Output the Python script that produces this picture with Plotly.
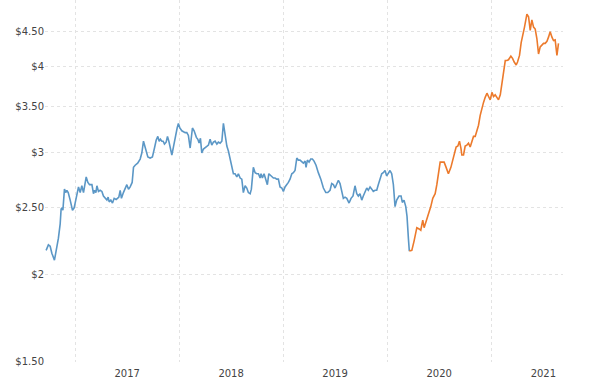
import plotly.graph_objects as go
import pandas as pd
import math

# Decimal-year positions and prices ($/lb)
blue_years = [2016.721, 2016.743, 2016.760, 2016.776, 2016.801, 2016.824, 2016.839, 2016.856, 2016.865, 2016.875,
              2016.882, 2016.897, 2016.911, 2016.920, 2016.933, 2016.952, 2016.974, 2016.990, 2017.010, 2017.022,
              2017.032, 2017.048, 2017.064, 2017.080, 2017.089, 2017.106, 2017.122, 2017.138, 2017.161, 2017.176,
              2017.186, 2017.199, 2017.209, 2017.224, 2017.240, 2017.257, 2017.272, 2017.288, 2017.305, 2017.317,
              2017.327, 2017.343, 2017.359, 2017.375, 2017.394, 2017.407, 2017.420, 2017.433, 2017.445, 2017.464,
              2017.481, 2017.497, 2017.513, 2017.529, 2017.548, 2017.561, 2017.577, 2017.601, 2017.625, 2017.641,
              2017.657, 2017.673, 2017.699, 2017.721, 2017.743, 2017.763, 2017.779, 2017.795, 2017.808, 2017.820,
              2017.834, 2017.846, 2017.859, 2017.875, 2017.888, 2017.901, 2017.916, 2017.930, 2017.945, 2017.968,
              2017.981, 2017.993, 2018.007, 2018.026, 2018.041, 2018.058, 2018.074, 2018.089, 2018.106, 2018.115,
              2018.128, 2018.144, 2018.157, 2018.166, 2018.180, 2018.192, 2018.205, 2018.218, 2018.234, 2018.257,
              2018.282, 2018.298, 2018.314, 2018.330, 2018.346, 2018.363, 2018.378, 2018.394, 2018.411, 2018.426,
              2018.442, 2018.459, 2018.474, 2018.490, 2018.507, 2018.522, 2018.538, 2018.555, 2018.570, 2018.587,
              2018.603, 2018.618, 2018.635, 2018.651, 2018.666, 2018.683, 2018.695, 2018.714, 2018.731, 2018.747,
              2018.763, 2018.779, 2018.788, 2018.801, 2018.817, 2018.834, 2018.849, 2018.863, 2018.875, 2018.891,
              2018.907, 2018.923, 2018.939, 2018.955, 2018.971, 2018.988, 2019.003, 2019.019, 2019.036, 2019.051,
              2019.067, 2019.084, 2019.099, 2019.115, 2019.132, 2019.147, 2019.163, 2019.180, 2019.195, 2019.212,
              2019.221, 2019.234, 2019.250, 2019.266, 2019.282, 2019.298, 2019.317, 2019.339, 2019.363, 2019.388,
              2019.411, 2019.430, 2019.452, 2019.468, 2019.484, 2019.500, 2019.516, 2019.532, 2019.548, 2019.564,
              2019.580, 2019.596, 2019.613, 2019.635, 2019.654, 2019.673, 2019.692, 2019.709, 2019.724, 2019.740,
              2019.757, 2019.772, 2019.788, 2019.805, 2019.820, 2019.837, 2019.853, 2019.868, 2019.885, 2019.901,
              2019.916, 2019.933, 2019.949, 2019.964, 2019.981, 2019.997, 2020.013, 2020.029, 2020.045, 2020.061,
              2020.077, 2020.093, 2020.115, 2020.135, 2020.147, 2020.163, 2020.180, 2020.192, 2020.205, 2020.214]
blue_prices = [2.17, 2.21, 2.20, 2.15, 2.10, 2.18, 2.26, 2.37, 2.49, 2.50,
               2.48, 2.66, 2.63, 2.65, 2.63, 2.565, 2.48, 2.50, 2.59, 2.62,
               2.68, 2.63, 2.69, 2.63, 2.67, 2.77, 2.72, 2.70, 2.70, 2.62,
               2.65, 2.63, 2.69, 2.64, 2.65, 2.64, 2.60, 2.58, 2.565, 2.59,
               2.55, 2.565, 2.54, 2.58, 2.57, 2.58, 2.59, 2.65, 2.58, 2.63,
               2.66, 2.70, 2.66, 2.68, 2.72, 2.86, 2.88, 2.90, 2.94, 3.00,
               3.12, 3.05, 2.96, 2.95, 2.96, 3.05, 3.13, 3.17, 3.12, 3.14,
               3.12, 3.12, 3.09, 3.11, 3.17, 3.12, 3.04, 2.98, 3.06, 3.20,
               3.26, 3.31, 3.26, 3.23, 3.22, 3.21, 3.21, 3.18, 3.05, 3.15,
               3.26, 3.23, 3.18, 3.16, 3.14, 3.10, 3.15, 3.00, 3.04, 3.06,
               3.08, 3.14, 3.08, 3.11, 3.12, 3.09, 3.11, 3.10, 3.12, 3.31,
               3.18, 3.07, 3.02, 2.95, 2.86, 2.80, 2.80, 2.77, 2.80, 2.76,
               2.75, 2.63, 2.69, 2.67, 2.63, 2.62, 2.66, 2.86, 2.81, 2.80,
               2.80, 2.76, 2.80, 2.76, 2.80, 2.75, 2.70, 2.80, 2.79, 2.78,
               2.76, 2.76, 2.75, 2.75, 2.68, 2.67, 2.64, 2.68, 2.70, 2.72,
               2.75, 2.80, 2.81, 2.83, 2.95, 2.93, 2.93, 2.91, 2.90, 2.92,
               2.86, 2.93, 2.91, 2.94, 2.94, 2.92, 2.88, 2.81, 2.75, 2.67,
               2.63, 2.63, 2.65, 2.71, 2.70, 2.67, 2.70, 2.74, 2.71, 2.65,
               2.58, 2.59, 2.58, 2.54, 2.58, 2.60, 2.69, 2.62, 2.60, 2.62,
               2.565, 2.60, 2.63, 2.67, 2.65, 2.68, 2.66, 2.64, 2.65, 2.65,
               2.70, 2.76, 2.80, 2.81, 2.83, 2.78, 2.81, 2.83, 2.80, 2.70,
               2.51, 2.565, 2.60, 2.60, 2.545, 2.565, 2.51, 2.43, 2.26, 2.165]

orange_years = [2020.214, 2020.238, 2020.260, 2020.286, 2020.308, 2020.324, 2020.343, 2020.356, 2020.372, 2020.388,
                2020.404, 2020.420, 2020.439, 2020.462, 2020.478, 2020.493, 2020.510, 2020.526, 2020.548, 2020.567,
                2020.589, 2020.613, 2020.632, 2020.647, 2020.663, 2020.680, 2020.695, 2020.709, 2020.718, 2020.734,
                2020.750, 2020.766, 2020.782, 2020.798, 2020.814, 2020.830, 2020.846, 2020.863, 2020.878, 2020.894,
                2020.911, 2020.926, 2020.942, 2020.959, 2020.974, 2020.990, 2021.007, 2021.022, 2021.038, 2021.055,
                2021.070, 2021.087, 2021.103, 2021.118, 2021.135, 2021.151, 2021.166, 2021.189, 2021.205, 2021.221,
                2021.240, 2021.253, 2021.272, 2021.288, 2021.305, 2021.320, 2021.343, 2021.359, 2021.375, 2021.391,
                2021.407, 2021.423, 2021.439, 2021.455, 2021.471, 2021.488, 2021.503, 2021.519, 2021.536, 2021.551,
                2021.567, 2021.584, 2021.599, 2021.615, 2021.632, 2021.647]
orange_prices = [2.165, 2.17, 2.24, 2.34, 2.33, 2.32, 2.40, 2.34, 2.38, 2.42,
                 2.47, 2.51, 2.58, 2.62, 2.70, 2.80, 2.91, 2.91, 2.91, 2.86,
                 2.80, 2.86, 2.93, 2.99, 3.06, 3.07, 3.12, 3.05, 2.98, 2.98,
                 3.07, 3.08, 3.10, 3.06, 3.13, 3.17, 3.17, 3.23, 3.29, 3.40,
                 3.50, 3.55, 3.61, 3.66, 3.62, 3.58, 3.67, 3.62, 3.64, 3.61,
                 3.58, 3.64, 3.78, 3.93, 4.08, 4.08, 4.09, 4.14, 4.11, 4.06,
                 4.02, 4.06, 4.15, 4.33, 4.44, 4.56, 4.76, 4.72, 4.51, 4.67,
                 4.56, 4.53, 4.39, 4.17, 4.27, 4.29, 4.32, 4.32, 4.35, 4.41,
                 4.49, 4.41, 4.36, 4.37, 4.15, 4.32]

y_tick_values = [1.5, 2, 2.5, 3, 3.5, 4, 4.5]
y_tick_labels = ["$1.50", "$2", "$2.50", "$3", "$3.50", "$4", "$4.50"]


def to_dates(years):
    out = []
    for y in years:
        yr = int(y)
        start = pd.Timestamp(year=yr, month=1, day=1)
        end = pd.Timestamp(year=yr + 1, month=1, day=1)
        out.append(start + (end - start) * (y - yr))
    return out


fig = go.Figure()
fig.add_trace(go.Scatter(x=to_dates(blue_years), y=blue_prices, mode="lines",
                         line=dict(color="#5b97c6", width=1.6), showlegend=False, hoverinfo="skip"))
fig.add_trace(go.Scatter(x=to_dates(orange_years), y=orange_prices, mode="lines",
                         line=dict(color="#ec7a2c", width=1.6), showlegend=False, hoverinfo="skip"))

grid_color = "#e3e3e3"
fig.update_layout(
    width=590, height=381,
    margin=dict(l=45, r=27, t=0, b=19, autoexpand=False),
    paper_bgcolor="white", plot_bgcolor="white",
    font=dict(family="DejaVu Sans", size=10, color="#444444"),
    hovermode=False,
    xaxis=dict(
        type="date",
        range=["2016-09-17", "2021-09-10"],
        dtick="M12", tick0="2016-01-01", tickformat="%Y",
        ticklabelmode="period",
        showgrid=True, gridcolor=grid_color, griddash="3px,3px", gridwidth=1,
        showline=False, zeroline=False, ticks="",
        ticklabelstandoff=4,
        tickfont=dict(size=10, color="#444444"),
    ),
    yaxis=dict(
        type="log",
        range=[math.log10(1.497), math.log10(4.99)],
        tickvals=y_tick_values, ticktext=y_tick_labels,
        showgrid=True, gridcolor=grid_color, griddash="3px,3px", gridwidth=1,
        showline=False, zeroline=False, ticks="",
        tickfont=dict(size=10, color="#444444"),
    ),
)

fig.write_html("out.html",
               config={"displayModeBar": False},
               post_script="document.body.style.margin='0px';document.body.style.overflow='hidden';")
